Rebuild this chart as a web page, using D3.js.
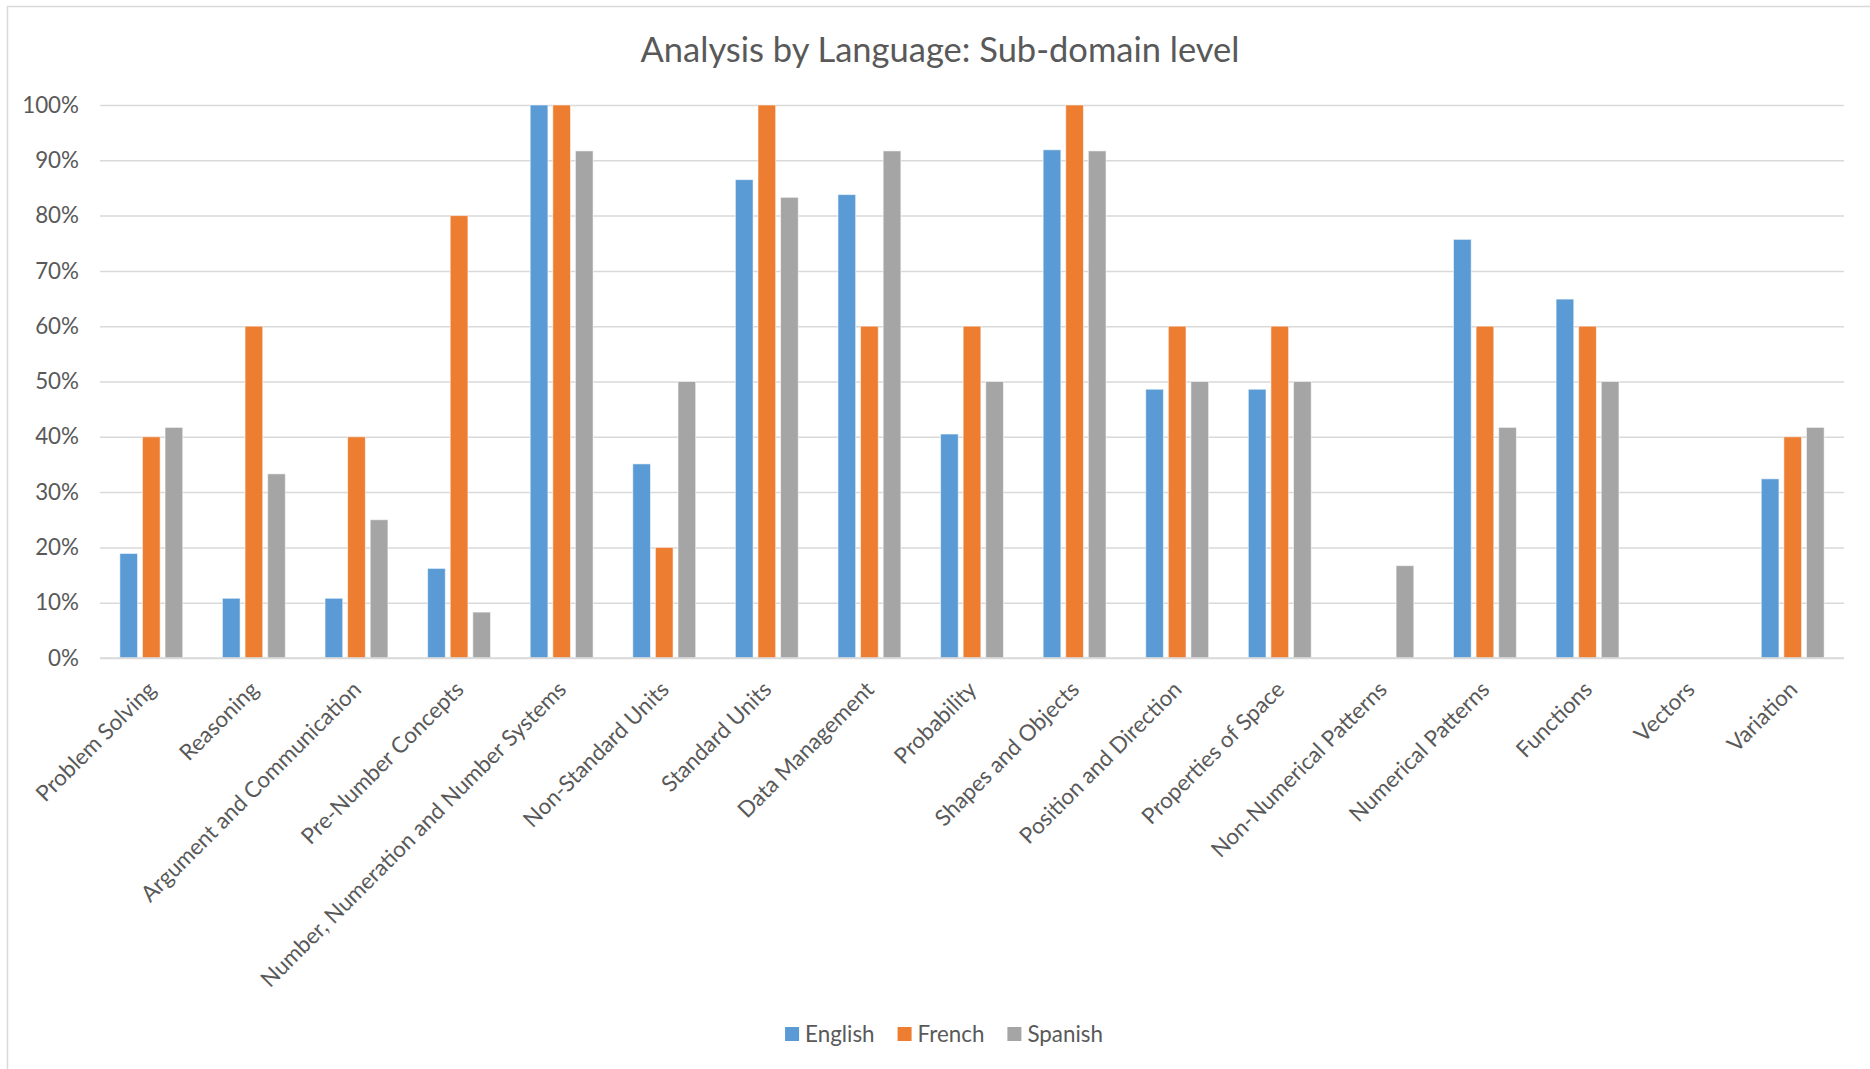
<!DOCTYPE html>
<html>
<head>
<meta charset="utf-8">
<script src="https://cdn.jsdelivr.net/npm/d3@7"></script>
<style>
  html, body { margin: 0; padding: 0; background: #fff; }
  svg { display: block; }
  text { font-family: Lato, "Open Sans", sans-serif; fill: #595959; }
</style>
</head>
<body>
<svg id="chart" width="1870" height="1069"></svg>
<script>
const categories = [
  "Problem Solving", "Reasoning", "Argument and Communication", "Pre-Number Concepts",
  "Number, Numeration and Number Systems", "Non-Standard Units", "Standard Units",
  "Data Management", "Probability", "Shapes and Objects", "Position and Direction",
  "Properties of Space", "Non-Numerical Patterns", "Numerical Patterns", "Functions",
  "Vectors", "Variation"
];
const seriesNames = ["English", "French", "Spanish"];
const english = [18.9, 10.8, 10.8, 16.2, 100, 35.1, 86.5, 83.8, 40.5, 91.9, 48.6, 48.6, 0, 75.7, 64.9, 0, 32.4];
const french  = [40, 60, 40, 80, 100, 20, 100, 60, 60, 100, 60, 60, 0, 60, 60, 0, 40];
const spanish = [41.7, 33.3, 25, 8.3, 91.7, 50, 83.3, 91.7, 50, 91.7, 50, 50, 16.7, 41.7, 50, 0, 41.7];
const yTicks = [0, 10, 20, 30, 40, 50, 60, 70, 80, 90, 100];
const titleText = "Analysis by Language: Sub-domain level";

const colors = ["#5B9BD5", "#ED7D31", "#A5A5A5"];
const seriesValues = [english, french, spanish];

const svg = d3.select("#chart");
const W = 1870, H = 1069;
const plot = { left: 100, right: 1844, top: 105, bottom: 658 };

// Chart area border
svg.append("rect")
  .attr("x", 7.5).attr("y", 6.5)
  .attr("width", W + 10).attr("height", H + 10)
  .attr("fill", "#fff").attr("stroke", "#d9d9d9").attr("stroke-width", 1.5);

// Font fitting helper (matches the widths of the original's typeface)
function fitSize(str, targetWidth, weight) {
  const t = svg.append("text").attr("font-size", 100).attr("font-weight", weight || 400).text(str);
  const w = t.node().getComputedTextLength();
  t.remove();
  return 100 * targetWidth / w;
}
const titleSize = fitSize(titleText, 599);
const labelSize = fitSize("Number, Numeration and Number Systems", 421);

const x = d3.scaleBand().domain(categories).range([plot.left, plot.right])
  .paddingInner(0.387).paddingOuter(0.1935);
const xs = d3.scaleBand().domain(seriesNames).range([0, x.bandwidth()]).paddingInner(0.217);
const y = d3.scaleLinear().domain([0, 100]).range([plot.bottom, plot.top]);

// Gridlines
const yAxis = d3.axisLeft(y).tickValues(yTicks)
  .tickSize(-(plot.right - plot.left)).tickFormat(d => d + "%").tickPadding(21);
const gy = svg.append("g").attr("transform", `translate(${plot.left},0)`).call(yAxis);
gy.select(".domain").remove();
gy.selectAll(".tick line").attr("stroke", "#d9d9d9").attr("stroke-width", 1.5);
gy.selectAll(".tick text").attr("font-size", labelSize).attr("fill", "#595959")
  .style("font-family", "Lato, 'Open Sans', sans-serif");

// Bars
const groups = svg.append("g").selectAll("g")
  .data(categories).join("g")
  .attr("transform", d => `translate(${x(d)},0)`);
groups.selectAll("rect")
  .data((d, i) => seriesNames.map((s, k) => ({ s, v: seriesValues[k][i], k })))
  .join("rect")
  .filter(d => d.v > 0)
  .attr("x", d => xs(d.s))
  .attr("width", xs.bandwidth())
  .attr("y", d => y(d.v))
  .attr("height", d => y(0) - y(d.v))
  .attr("fill", d => colors[d.k])
  .attr("stroke", "rgba(255,255,255,0.55)")
  .attr("stroke-width", 1);

// Category axis line and rotated labels
const xAxis = d3.axisBottom(x).tickSize(0).tickPadding(0);
const gx = svg.append("g").attr("transform", `translate(0,${plot.bottom})`).call(xAxis);
gx.select(".domain").attr("stroke", "#d9d9d9").attr("stroke-width", 1.5)
  .attr("d", `M${plot.left},0H${plot.right}`);
gx.selectAll(".tick text")
  .attr("font-size", labelSize).attr("fill", "#595959")
  .style("font-family", "Lato, 'Open Sans', sans-serif")
  .attr("text-anchor", "end")
  .attr("x", 0).attr("y", 0).attr("dy", "0")
  .attr("transform", "translate(6,33) rotate(-45)");

// Title
svg.append("text")
  .attr("x", 940).attr("y", 62)
  .attr("text-anchor", "middle")
  .attr("font-size", titleSize)
  .text(titleText);

// Legend
const legend = svg.append("g");
let lx = 0;
seriesNames.forEach((s, k) => {
  const g = legend.append("g").attr("transform", `translate(${lx},0)`);
  g.append("rect").attr("x", 0).attr("y", -7).attr("width", 14).attr("height", 14).attr("fill", colors[k]);
  const t = g.append("text").attr("x", 20).attr("y", 0).attr("dy", "0.35em")
    .attr("font-size", labelSize).text(s);
  lx += 20 + t.node().getComputedTextLength() + 23;
});
const legendWidth = lx - 23;
legend.attr("transform", `translate(${944 - legendWidth / 2},1034)`);
</script>
</body>
</html>
